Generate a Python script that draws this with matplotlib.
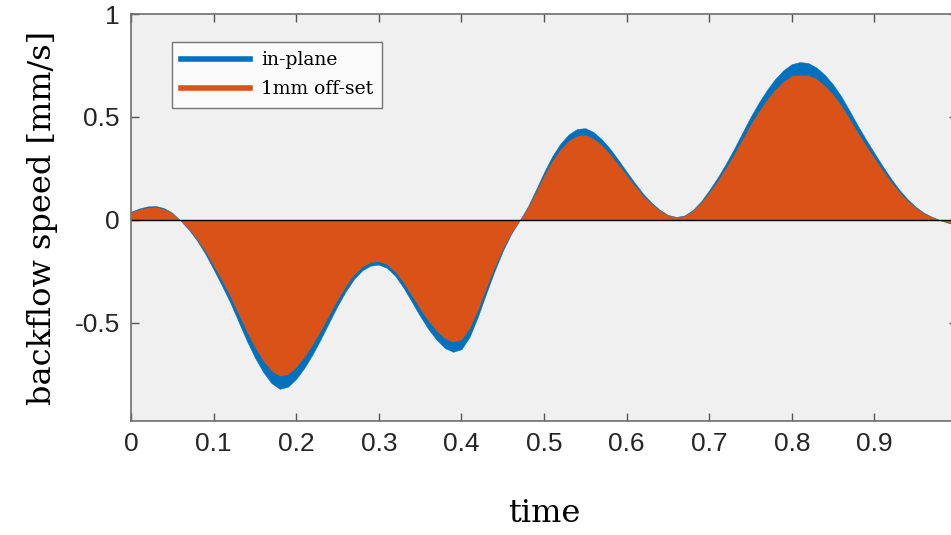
"""Backflow speed over time, in-plane vs 1mm off-set."""
import matplotlib
matplotlib.use("Agg")
import matplotlib.pyplot as plt

# time samples read every 0.01
time = [0.00, 0.01, 0.02, 0.03, 0.04, 0.05, 0.06, 0.07, 0.08, 0.09,
        0.10, 0.11, 0.12, 0.13, 0.14, 0.15, 0.16, 0.17, 0.18, 0.19,
        0.20, 0.21, 0.22, 0.23, 0.24, 0.25, 0.26, 0.27, 0.28, 0.29,
        0.30, 0.31, 0.32, 0.33, 0.34, 0.35, 0.36, 0.37, 0.38, 0.39,
        0.40, 0.41, 0.42, 0.43, 0.44, 0.45, 0.46, 0.47, 0.48, 0.49,
        0.50, 0.51, 0.52, 0.53, 0.54, 0.55, 0.56, 0.57, 0.58, 0.59,
        0.60, 0.61, 0.62, 0.63, 0.64, 0.65, 0.66, 0.67, 0.68, 0.69,
        0.70, 0.71, 0.72, 0.73, 0.74, 0.75, 0.76, 0.77, 0.78, 0.79,
        0.80, 0.81, 0.82, 0.83, 0.84, 0.85, 0.86, 0.87, 0.88, 0.89,
        0.90, 0.91, 0.92, 0.93, 0.94, 0.95, 0.96, 0.97, 0.98, 0.99,
        1.00]

in_plane = [0.040, 0.056, 0.066, 0.068, 0.058, 0.035, -0.003, -0.047, -0.100, -0.165,
            -0.240, -0.318, -0.400, -0.492, -0.585, -0.668, -0.738, -0.792, -0.820, -0.810,
            -0.772, -0.718, -0.652, -0.577, -0.497, -0.418, -0.347, -0.287, -0.245, -0.222,
            -0.217, -0.233, -0.272, -0.330, -0.398, -0.467, -0.530, -0.582, -0.622, -0.640,
            -0.628, -0.568, -0.470, -0.358, -0.250, -0.152, -0.070, -0.005, 0.062, 0.145,
            0.232, 0.310, 0.372, 0.416, 0.442, 0.446, 0.427, 0.392, 0.346, 0.292,
            0.235, 0.180, 0.128, 0.085, 0.050, 0.025, 0.015, 0.022, 0.048, 0.090,
            0.145, 0.205, 0.272, 0.345, 0.423, 0.500, 0.570, 0.632, 0.686, 0.728,
            0.757, 0.767, 0.762, 0.740, 0.705, 0.658, 0.600, 0.530, 0.458, 0.390,
            0.325, 0.262, 0.202, 0.148, 0.102, 0.064, 0.035, 0.015, -0.002, -0.015,
            -0.025]

offset_1mm = [0.037, 0.052, 0.061, 0.063, 0.054, 0.032, -0.003, -0.043, -0.093, -0.153,
              -0.222, -0.294, -0.370, -0.455, -0.541, -0.618, -0.683, -0.733, -0.757, -0.749,
              -0.714, -0.664, -0.603, -0.534, -0.460, -0.387, -0.321, -0.265, -0.227, -0.205,
              -0.201, -0.216, -0.252, -0.305, -0.368, -0.432, -0.490, -0.538, -0.575, -0.592,
              -0.581, -0.525, -0.435, -0.331, -0.231, -0.141, -0.065, -0.005, 0.057, 0.134,
              0.215, 0.287, 0.344, 0.385, 0.409, 0.413, 0.395, 0.363, 0.320, 0.270,
              0.217, 0.167, 0.118, 0.079, 0.046, 0.023, 0.014, 0.020, 0.044, 0.083,
              0.134, 0.190, 0.252, 0.319, 0.391, 0.463, 0.527, 0.585, 0.635, 0.673,
              0.700, 0.704, 0.703, 0.685, 0.652, 0.609, 0.555, 0.490, 0.424, 0.361,
              0.301, 0.242, 0.187, 0.137, 0.094, 0.059, 0.032, 0.014, -0.002, -0.014,
              -0.023]

xtick_values = [0, 0.1, 0.2, 0.3, 0.4, 0.5, 0.6, 0.7, 0.8, 0.9]
xtick_labels = ["0", "0.1", "0.2", "0.3", "0.4", "0.5", "0.6", "0.7", "0.8", "0.9"]
ytick_values = [-0.5, 0, 0.5, 1]
ytick_labels = ["-0.5", "0", "0.5", "1"]

blue = "#0072BD"
orange = "#D95319"
serif = ["DejaVu Serif"]

fig = plt.figure(figsize=(9.51, 5.35), dpi=100, facecolor="w")
ax = fig.add_axes([0.1377, 0.2131, 0.8686, 0.7607])
ax.set_facecolor("#F0F0F0")

ax.fill_between(time, 0, in_plane, color=blue, lw=0.3, edgecolor=blue)
ax.fill_between(time, 0, offset_1mm, color=orange, lw=0)
ax.axhline(0, color="k", lw=1)

# legend handles
ax.plot([], [], color=blue, lw=4, label="in-plane")
ax.plot([], [], color=orange, lw=4, label="1mm off-set")
leg = ax.legend(loc="upper left", bbox_to_anchor=(0.038, 0.955), frameon=True,
                fancybox=False, handlelength=3.7, handletextpad=0.55,
                borderpad=0.5, labelspacing=0.6,
                prop={"family": serif, "size": 13.5})
leg.get_frame().set_edgecolor("#555555")
leg.get_frame().set_linewidth(1)

ax.set_xlim(0, 1)
ax.set_ylim(-0.976, 1)
ax.set_xticks(xtick_values)
ax.set_xticklabels(xtick_labels)
ax.set_yticks(ytick_values)
ax.set_yticklabels(ytick_labels)
ax.tick_params(direction="in", length=6, width=1, color="#555555",
               top=True, right=True, labelsize=19, labelcolor="#262626", pad=8)
for lbl in ax.get_xticklabels() + ax.get_yticklabels():
    lbl.set_family("Liberation Sans")
for s in ax.spines.values():
    s.set_color("#6e6e6e")
    s.set_linewidth(1.2)

ax.set_xlabel("time", family=serif, fontsize=23, labelpad=30)
ax.set_ylabel("backflow speed [mm/s]", family=serif, fontsize=23, labelpad=12)

plt.savefig("out.png", dpi=100)
